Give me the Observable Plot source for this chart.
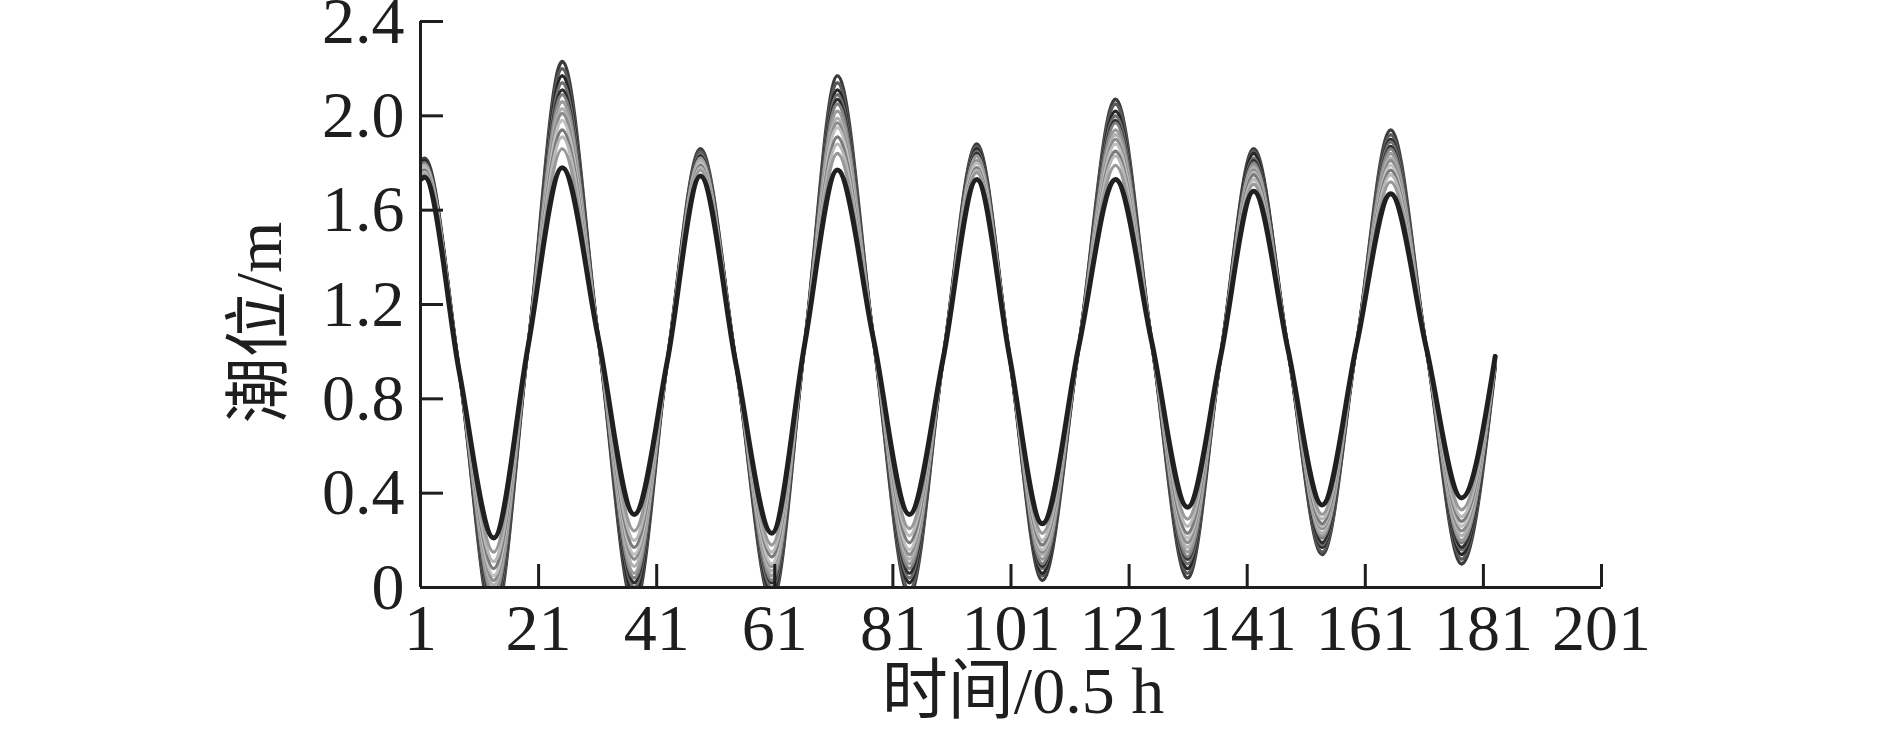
<!DOCTYPE html>
<html><head><meta charset="utf-8">
<script src="https://cdn.jsdelivr.net/npm/d3@7"></script>
<script src="https://cdn.jsdelivr.net/npm/@observablehq/plot@0.6"></script>
<style>html,body{margin:0;padding:0;background:#fff}svg{display:block}</style>
</head><body><div id="chart"></div>
<script>
// ---- data ----
const xTicks = [1, 21, 41, 61, 81, 101, 121, 141, 161, 181, 201];
const yTicks = [0, 0.4, 0.8, 1.2, 1.6, 2.0, 2.4];
const xLabel = "时间/0.5 h";
const yLabel = "潮位/m";
// time steps (0.5 h): first sample, highs / lows, last sample
const times = [1, 1.7, 13.4, 25, 37.2, 48.4, 60.5, 71.6, 83.8, 95.2, 106.3, 118.7, 130.9, 142.1, 153.7, 165.3, 177.3, 183];
// where the runs bunch together on each rise / fall (half-tide level, m)
const midTimes  = [7.6, 19.2, 31.1, 42.8, 54.45, 66.05, 77.7, 89.5, 100.75, 112.5, 124.8, 136.5, 147.9, 159.5, 171.3];
const midLevels = [0.91, 1.02, 1.06, 0.96, 0.945, 1.03, 1.055, 0.97, 0.98, 1.025, 1.045, 0.98, 1.01, 1.025, 1.02];
// tide level (m) of each run at `times`, outermost run first, innermost last
const run01 = [1.81, 1.82, -0.15, 2.23, -0.08, 1.86, -0.06, 2.17, -0.03, 1.88, 0.03, 2.07, 0.04, 1.86, 0.14, 1.94, 0.10, 0.94];
const run02 = [1.80, 1.81, -0.13, 2.20, -0.05, 1.85, -0.04, 2.14, -0.01, 1.87, 0.05, 2.05, 0.06, 1.85, 0.15, 1.92, 0.12, 0.94];
const run03 = [1.80, 1.81, -0.10, 2.17, -0.03, 1.84, -0.02, 2.11, 0.02, 1.86, 0.06, 2.02, 0.08, 1.84, 0.17, 1.90, 0.14, 0.95];
const run04 = [1.79, 1.80, -0.08, 2.14, 0.00, 1.84, 0.00, 2.09, 0.04, 1.85, 0.08, 2.00, 0.10, 1.82, 0.18, 1.89, 0.16, 0.95];
const run05 = [1.79, 1.80, -0.06, 2.11, 0.02, 1.83, 0.02, 2.07, 0.06, 1.84, 0.09, 1.98, 0.12, 1.81, 0.19, 1.87, 0.17, 0.95];
const run06 = [1.79, 1.80, -0.04, 2.09, 0.04, 1.82, 0.03, 2.05, 0.08, 1.83, 0.10, 1.97, 0.13, 1.80, 0.21, 1.86, 0.19, 0.96];
const run07 = [1.78, 1.79, -0.02, 2.06, 0.06, 1.82, 0.05, 2.02, 0.10, 1.83, 0.12, 1.94, 0.15, 1.79, 0.22, 1.84, 0.20, 0.96];
const run08 = [1.78, 1.79, 0.01, 2.03, 0.09, 1.81, 0.07, 1.99, 0.12, 1.81, 0.14, 1.92, 0.17, 1.78, 0.23, 1.82, 0.22, 0.96];
const run09 = [1.77, 1.78, 0.03, 2.01, 0.12, 1.80, 0.09, 1.97, 0.14, 1.81, 0.15, 1.90, 0.19, 1.77, 0.25, 1.81, 0.24, 0.96];
const run10 = [1.77, 1.78, 0.05, 1.98, 0.14, 1.80, 0.10, 1.95, 0.16, 1.80, 0.16, 1.88, 0.21, 1.76, 0.26, 1.79, 0.26, 0.97];
const run11 = [1.76, 1.77, 0.08, 1.94, 0.17, 1.79, 0.13, 1.91, 0.19, 1.78, 0.18, 1.85, 0.23, 1.75, 0.27, 1.77, 0.28, 0.97];
const run12 = [1.75, 1.76, 0.11, 1.91, 0.20, 1.78, 0.15, 1.88, 0.22, 1.77, 0.20, 1.83, 0.26, 1.73, 0.29, 1.75, 0.30, 0.97];
const run13 = [1.74, 1.75, 0.15, 1.86, 0.24, 1.77, 0.18, 1.84, 0.25, 1.76, 0.23, 1.79, 0.29, 1.71, 0.31, 1.72, 0.33, 0.97];
const run14 = [1.73, 1.74, 0.21, 1.78, 0.31, 1.745, 0.23, 1.77, 0.31, 1.73, 0.27, 1.73, 0.34, 1.68, 0.35, 1.67, 0.38, 0.98];
const runs = [run01, run02, run03, run04, run05, run06, run07, run08, run09, run10, run11, run12, run13, run14];

// ---- styles ----
const runColors = ["#3c3c3c", "#5a5a5a", "#262626", "#6e6e6e", "#2e2e2e", "#808080", "#9a9a9a",
                   "#b0b0b0", "#8c8c8c", "#c0c0c0", "#7a7a7a", "#b8b8b8", "#999999", "#202020"];
const runWidths = [3.6, 3.4, 3.4, 3.4, 3.4, 3.4, 3.4, 3.4, 3.4, 3.4, 3.4, 3.4, 3.4, 5];
const ink = "#1e1e1e";
const font = "'Liberation Serif', 'Noto Sans CJK SC', serif";

// each run: its own highs/lows plus the shared half-tide crossings, in time order
const tables = runs.map(vals =>
  vals.map((v, i) => ({t: times[i], v}))
    .concat(midTimes.map((t, i) => ({t, v: midLevels[i]})))
    .sort((a, b) => a.t - b.t)
);

const chart = Plot.plot({
  width: 1889,
  height: 729,
  marginLeft: 420,
  marginRight: 288,
  marginTop: 21,
  marginBottom: 142,
  style: {fontFamily: font, background: "#fff", color: ink},
  x: {domain: [xTicks[0], xTicks[xTicks.length - 1]], axis: null},
  y: {domain: [yTicks[0], yTicks[yTicks.length - 1]], axis: null},
  marks: [
    ...tables.map((tab, k) => Plot.line(tab, {
      x: "t", y: "v", stroke: runColors[k], strokeWidth: runWidths[k],
      curve: "monotone-x", clip: true, strokeLinejoin: "miter"
    })),
    // axis lines
    Plot.ruleY([yTicks[0]], {x1: xTicks[0], x2: xTicks[xTicks.length - 1], stroke: ink, strokeWidth: 3}),
    Plot.ruleX([xTicks[0]], {y1: yTicks[0], y2: yTicks[yTicks.length - 1], stroke: ink, strokeWidth: 3}),
    // inward ticks
    Plot.ruleX(xTicks.slice(1), {x: d => d, y1: yTicks[0], y2: yTicks[0], insetTop: -23, stroke: ink, strokeWidth: 3}),
    Plot.ruleY(yTicks.slice(1), {y: d => d, x1: xTicks[0], x2: xTicks[0], insetRight: -23, stroke: ink, strokeWidth: 3}),
    // tick labels
    Plot.axisX(xTicks, {tickSize: 0, tickPadding: 16, fontSize: 66, tickFormat: d => String(d), label: null, color: ink}),
    Plot.axisY(yTicks, {tickSize: 0, tickPadding: 16, fontSize: 66, tickFormat: d => d === 0 ? "0" : d.toFixed(1), label: null, color: ink}),
    // axis titles
    Plot.text([xLabel], {text: d => d, frameAnchor: "bottom", textAnchor: "middle", lineAnchor: "top", dx: 12, dy: 79, fontSize: 66, fill: ink}),
    Plot.text([yLabel], {text: d => d, frameAnchor: "left", textAnchor: "middle", lineAnchor: "middle", rotate: -90, dx: -161, dy: 18, fontSize: 66, fill: ink})
  ]
});
document.getElementById("chart").appendChild(chart);
</script>
</body></html>
